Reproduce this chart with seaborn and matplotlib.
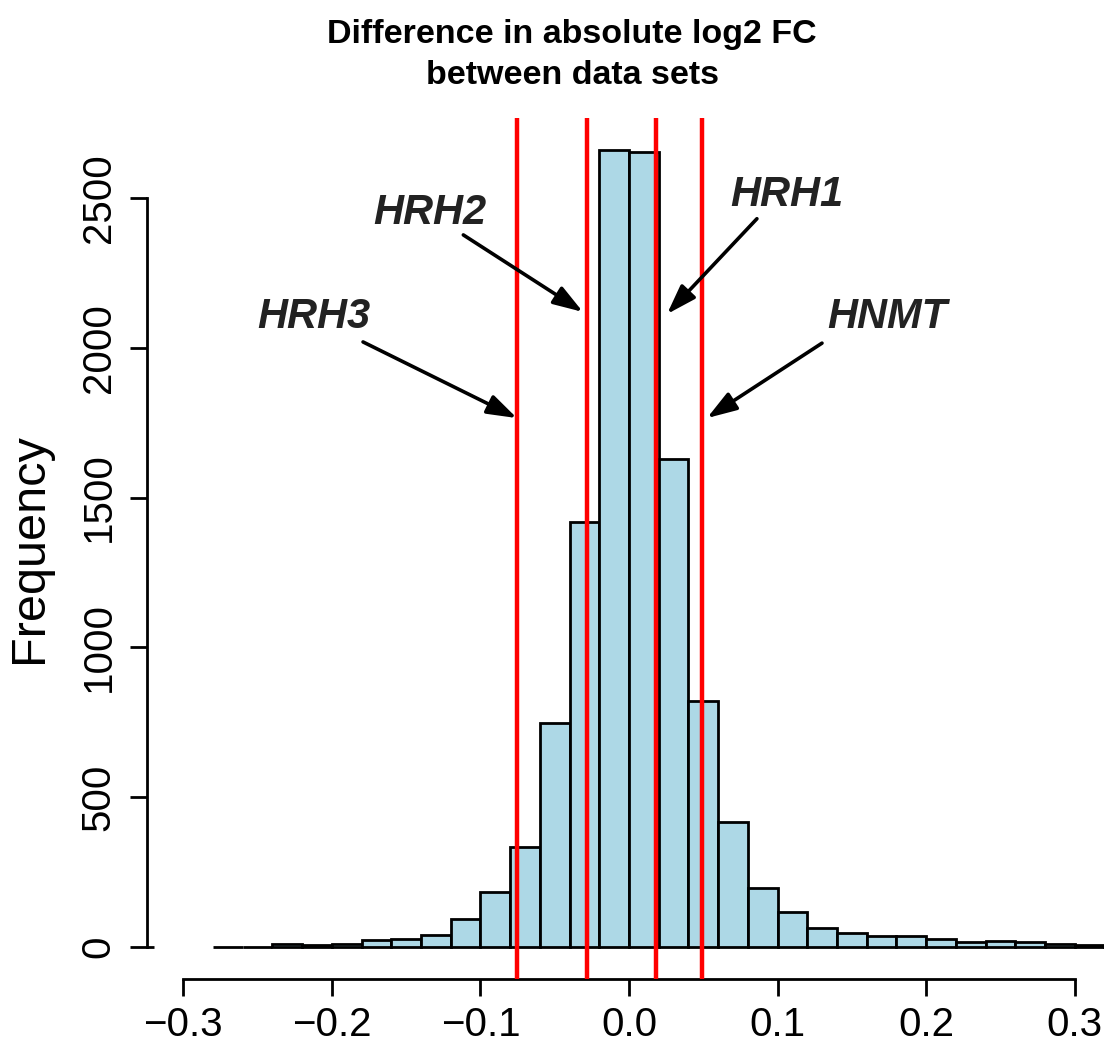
import numpy as np
import pandas as pd
import matplotlib
matplotlib.use("Agg")
import matplotlib.pyplot as plt
import seaborn as sns

# Histogram of per-gene differences (bin width 0.02)
bin_left = [-0.28, -0.26, -0.24, -0.22, -0.20, -0.18, -0.16, -0.14, -0.12, -0.10,
            -0.08, -0.06, -0.04, -0.02, 0.00, 0.02, 0.04, 0.06, 0.08, 0.10,
            0.12, 0.14, 0.16, 0.18, 0.20, 0.22, 0.24, 0.26, 0.28, 0.30, 0.32]
counts = [2, 2, 12, 8, 12, 25, 28, 42, 93, 183,
          334, 749, 1420, 2660, 2651, 1629, 822, 418, 199, 116,
          64, 47, 36, 39, 26, 19, 20, 16, 12, 7, 4]
# isolated outlier bin at the far left
outlier_left = [-0.34]
outlier_counts = [1]
bin_width = 0.02

# highlighted genes
gene_names = ["HRH3", "HRH2", "HRH1", "HNMT"]
gene_diff = [-0.0756, -0.0281, 0.0182, 0.0493]
# label centres and arrow tails / heads (data coordinates)
label_xy = [(-0.212, 2102), (-0.134, 2450), (0.1063, 2510), (0.1736, 2102)]
arrow_tail = [(-0.179, 2019), (-0.1115, 2376), (0.0861, 2430), (0.1299, 2015)]
arrow_head = [(-0.0754, 1765), (-0.031, 2119), (0.0256, 2112), (0.0525, 1765)]

x_ticks = [-0.3, -0.2, -0.1, 0.0, 0.1, 0.2, 0.3]
y_ticks = [0, 500, 1000, 1500, 2000, 2500]

sns.set_style("white")
plt.rcParams["font.family"] = ["Liberation Sans", "DejaVu Sans"]
plt.rcParams["text.color"] = "black"
plt.rcParams["axes.labelcolor"] = "black"

fig = plt.figure(figsize=(11.04, 10.42), dpi=100)
ax = fig.add_axes([147 / 1104, 63 / 1042, 957 / 1104, 861 / 1042])

lefts = np.asarray(bin_left, dtype=float)
edges = list(np.append(lefts, lefts[-1] + bin_width))
df = pd.DataFrame({"value": lefts + bin_width / 2, "n": np.asarray(counts, dtype=float)})
sns.histplot(data=df, x="value", weights="n", bins=edges, ax=ax,
             color="#ADD8E6", edgecolor="black", linewidth=2.0, alpha=1.0)
ax.bar(outlier_left, outlier_counts, width=bin_width, align="edge",
       color="#ADD8E6", edgecolor="black", linewidth=2.0)

for xv in gene_diff:
    ax.axvline(xv, color="#FF0000", lw=3.2, zorder=3)

for name, (tx, ty), tail, head in zip(gene_names, label_xy, arrow_tail, arrow_head):
    ax.text(tx, ty, name, fontsize=30, fontweight="bold", fontstyle="italic",
            color="#222222", ha="center", va="center")
    ax.annotate("", xy=head, xytext=tail,
                arrowprops=dict(arrowstyle="-|>,head_length=0.9,head_width=0.3",
                                lw=2.6, color="black", shrinkA=0, shrinkB=0,
                                mutation_scale=20))

ax.set_xlim(-0.3244, 0.3197)
ax.set_ylim(-106, 2766)

ax.spines["top"].set_visible(False)
ax.spines["right"].set_visible(False)
ax.spines["left"].set_bounds(0, 2500)
ax.spines["bottom"].set_bounds(-0.3, 0.3)
for s in ("left", "bottom"):
    ax.spines[s].set_linewidth(2.0)
    ax.spines[s].set_color("black")

ax.set_xticks(x_ticks)
ax.set_xticklabels([f"{v:.1f}".replace("-", "\u2212") for v in x_ticks])
ax.set_yticks(y_ticks)
ax.set_yticklabels([str(v) for v in y_ticks], rotation=90, va="center")
ax.tick_params(axis="both", direction="out", width=2.0, length=12.2,
               labelsize=29, colors="black", bottom=True, left=True)
ax.tick_params(axis="x", pad=7)
ax.tick_params(axis="y", pad=9)

ax.set_xlabel("")
ax.set_ylabel("Frequency", fontsize=35, labelpad=20, color="black")

fig.text(572 / 1104, 1 - 35 / 1042, "Difference in absolute log2 FC",
         fontsize=24.5, fontweight="bold", ha="center", va="center", color="black")
fig.text(572 / 1104, 1 - 75 / 1042, "between data sets",
         fontsize=24.5, fontweight="bold", ha="center", va="center", color="black")

fig.savefig("out.png", dpi=100)
